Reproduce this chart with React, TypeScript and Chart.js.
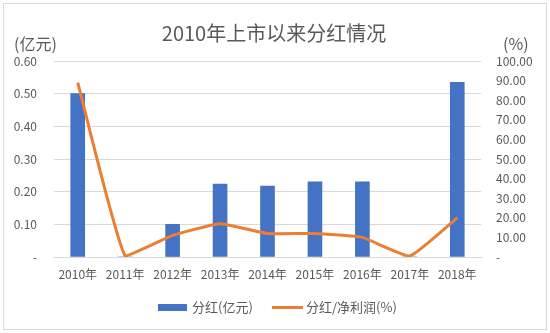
import React, { useEffect, useRef } from "react";
import { Chart, registerables } from "chart.js";

Chart.register(...registerables);

const categories = ["2010年", "2011年", "2012年", "2013年", "2014年", "2015年", "2016年", "2017年", "2018年"];
const dividends = [0.5, 0, 0.1, 0.223, 0.217, 0.23, 0.23, 0, 0.535];
const payoutRatio = [89, 0.5, 11, 17, 12, 12, 10, 0.5, 20];
const title = "2010年上市以来分红情况";
const leftUnit = "(亿元)";
const rightUnit = "(%)";
const barLabel = "分红(亿元)";
const lineLabel = "分红/净利润(%)";

const FONT = "'Noto Sans CJK SC', 'Noto Sans', sans-serif";
const TXT = "#595959";
const BLUE = "#4472C4";
const ORANGE = "#ED7D31";

const decor = {
  id: "decor",
  afterDraw(chart: any) {
    const ctx = chart.ctx;
    ctx.save();
    ctx.strokeStyle = "#D9D9D9";
    ctx.lineWidth = 1;
    ctx.strokeRect(3.5, 3.5, 543, 326);
    ctx.fillStyle = TXT;
    ctx.textBaseline = "middle";
    ctx.textAlign = "center";
    ctx.font = `20px ${FONT}`;
    ctx.fillText(title, 274, 33);
    ctx.font = `16px ${FONT}`;
    ctx.textAlign = "left";
    ctx.fillText(leftUnit, 14, 44);
    ctx.fillText(rightUnit, 503, 44);
    // legend
    ctx.font = `13px ${FONT}`;
    ctx.fillStyle = BLUE;
    ctx.fillRect(158, 304, 29, 7);
    ctx.fillStyle = TXT;
    ctx.fillText(barLabel, 192, 307);
    ctx.strokeStyle = ORANGE;
    ctx.lineWidth = 3;
    ctx.beginPath();
    ctx.moveTo(272, 307.5);
    ctx.lineTo(303, 307.5);
    ctx.stroke();
    ctx.fillText(lineLabel, 306, 307);
    ctx.restore();
  },
};

export default function App() {
  const ref = useRef<HTMLCanvasElement>(null);
  useEffect(() => {
    document.body.style.margin = "0";
    const chart = new Chart(ref.current!, {
      type: "bar",
      data: {
        labels: categories,
        datasets: [
          {
            type: "line",
            label: lineLabel,
            data: payoutRatio,
            yAxisID: "y1",
            borderColor: ORANGE,
            backgroundColor: ORANGE,
            borderWidth: 3,
            pointRadius: 0,
            tension: 0.12,
            order: 0,
          } as any,
          {
            type: "bar",
            label: barLabel,
            data: dividends,
            yAxisID: "y",
            backgroundColor: BLUE,
            barThickness: 14,
            order: 1,
          },
        ],
      },
      options: {
        animation: false,
        responsive: false,
        layout: { padding: { top: 61, bottom: 0, left: 0, right: 0 } },
        plugins: { legend: { display: false }, tooltip: { enabled: false }, title: { display: false } },
        scales: {
          x: {
            grid: { display: false, drawTicks: false },
            border: { display: true, color: "#D9D9D9" },
            ticks: { color: TXT, font: { size: 12, family: FONT }, padding: 10, maxRotation: 0 },
            afterFit(s: any) { s.height = 76; },
          },
          y: {
            position: "left",
            min: 0,
            max: 0.6,
            grid: { color: "#D9D9D9", drawTicks: false },
            border: { display: false },
            ticks: {
              stepSize: 0.1,
              color: TXT,
              font: { size: 12, family: FONT },
              padding: 17,
              callback: (v: any) => (Math.abs(v) < 1e-9 ? "-" : Number(v).toFixed(2)),
            },
            afterFit(s: any) { s.width = 54; },
          },
          y1: {
            position: "right",
            min: 0,
            max: 100,
            grid: { display: false, drawTicks: false },
            border: { display: false },
            ticks: {
              stepSize: 10,
              color: TXT,
              font: { size: 12, family: FONT },
              padding: 15,
              callback: (v: any) => (Math.abs(v) < 1e-9 ? "-" : Number(v).toFixed(2)),
            },
            afterFit(s: any) { s.width = 69; },
          },
        },
      },
      plugins: [decor],
    });
    return () => chart.destroy();
  }, []);
  return (
    <div style={{ width: 550, height: 333 }}>
      <canvas ref={ref} width={550} height={333} style={{ display: "block" }} />
    </div>
  );
}
